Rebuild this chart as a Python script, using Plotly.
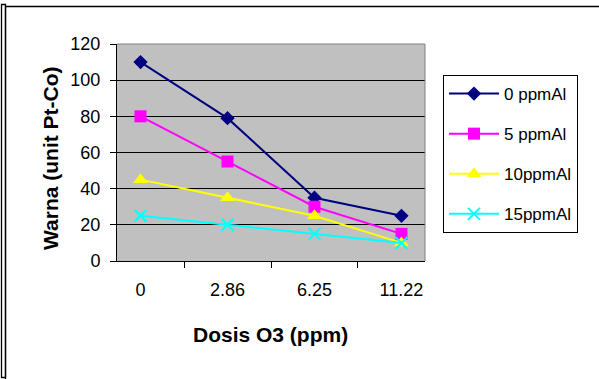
import plotly.graph_objects as go

categories = ["0", "2.86", "6.25", "11.22"]
series_names = ["0 ppmAl", "5 ppmAl", "10ppmAl", "15ppmAl"]
s0 = [110, 79, 35, 25]
s5 = [80, 55, 30, 15]
s10 = [45, 35, 25, 10]
s15 = [25, 20, 15, 10]
y_ticks = [0, 20, 40, 60, 80, 100, 120]

colors = ["#000080", "#FF00FF", "#FFFF00", "#00FFFF"]
symbols = ["diamond", "square", "triangle-up", "x-thin"]
sizes = [11, 12, 13, 12]
values = [s0, s5, s10, s15]

W, H = 599, 379
L, R, T, B = 117, 425, 44, 261
pw, ph = R - L, B - T

def px(x):
    return (x - L) / pw

def py(y):
    return 1 - (y - T) / ph

fig = go.Figure()
for name, vals, c, sym, sz in zip(series_names, values, colors, symbols, sizes):
    marker = dict(color=c, size=sz, symbol=sym)
    if sym == "x-thin":
        marker["line"] = dict(color=c, width=2)
    fig.add_trace(go.Scatter(
        x=categories, y=vals, name=name, mode="lines+markers",
        line=dict(color=c, width=2), marker=marker, legendgroup=name,
    ))

font = "Liberation Sans, Arial, sans-serif"
fig.update_layout(
    width=W, height=H,
    margin=dict(l=L, r=W - R, t=T, b=H - B, autoexpand=False),
    paper_bgcolor="white", plot_bgcolor="#C0C0C0",
    font=dict(family=font, size=18, color="black"),
    xaxis=dict(
        type="category", tickson="boundaries", ticks="outside", ticklen=6,
        tickcolor="black", showline=True, linecolor="black", linewidth=1,
        showgrid=False, mirror=False, tickfont=dict(size=18),
        ticklabelstandoff=12, automargin=False,
    ),
    yaxis=dict(
        range=[0, 120], tickvals=y_ticks, ticks="outside", ticklen=6,
        tickcolor="black", showline=True, linecolor="black", linewidth=1,
        showgrid=True, gridcolor="black", gridwidth=1, zeroline=False,
        tickfont=dict(size=18), ticklabelstandoff=6, automargin=False,
    ),
    legend=dict(
        x=px(443), y=py(75), xanchor="left", yanchor="top",
        bordercolor="black", borderwidth=1, bgcolor="white",
        font=dict(size=17), tracegroupgap=15, traceorder="grouped",
        itemwidth=50,
    ),
    showlegend=True,
    annotations=[
        dict(text="<b>Dosis O3 (ppm)</b>", xref="paper", yref="paper",
             x=px(270), y=py(334), showarrow=False, font=dict(size=21),
             xanchor="center", yanchor="middle"),
        dict(text="<b>Warna (unit Pt-Co)</b>", xref="paper", yref="paper",
             x=px(50), y=py(158), showarrow=False, font=dict(size=21),
             textangle=-90, xanchor="center", yanchor="middle"),
    ],
)

shapes = [
    dict(type="line", xref="paper", yref="paper", x0=0, x1=1, y0=1, y1=1,
         line=dict(color="#808080", width=1)),
    dict(type="line", xref="paper", yref="paper", x0=1, x1=1, y0=0, y1=1,
         line=dict(color="#808080", width=1)),
    dict(type="rect", xref="paper", yref="paper", x0=px(5.5), x1=px(620),
         y0=py(400), y1=py(6.5), line=dict(color="black", width=1.3)),
    dict(type="rect", xref="paper", yref="paper", x0=px(1.5), x1=px(5.5),
         y0=py(377.5), y1=py(4.5), line=dict(color="black", width=1.3)),
]
fig.update_layout(shapes=shapes)

fig.write_html("out.html")
